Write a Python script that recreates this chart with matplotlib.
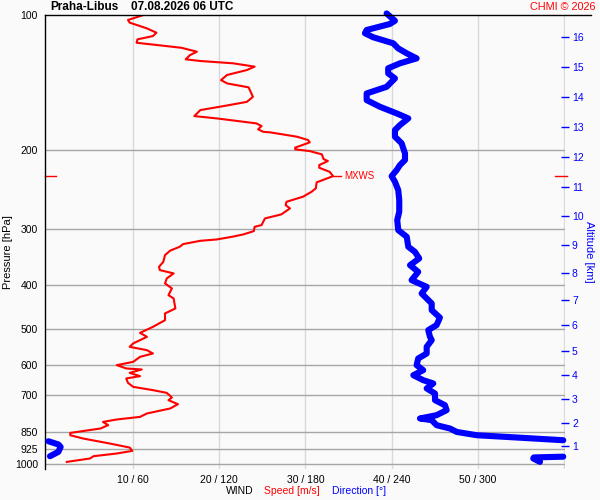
import numpy as np
import matplotlib
matplotlib.use("Agg")
import matplotlib.pyplot as plt
from matplotlib.lines import Line2D
from matplotlib.ticker import NullLocator

plt.rcParams["font.family"] = ["Liberation Sans", "DejaVu Sans"]

station = "Praha-Libus"
run_time = "07.08.2026 06 UTC"

# wind speed [m/s] vs pressure [hPa]
speed_p = [100, 102.6, 104.0, 107.1, 109.5, 111.4, 113.3, 115.3, 116.6, 118.3,
           120.7, 122.8, 125.5, 126.6, 128.1, 130.3, 132.6, 136.0, 139.6, 142.0,
           144.9, 152.1, 156.1, 159.5, 162.8, 167.9, 169.9, 174.3, 176.7, 179.7,
           182.0, 182.5, 186.6, 189.8, 192.1, 197.4, 199.1, 200.9, 204.3, 209.3,
           211.4, 215.8, 218.8, 223.4, 228.4, 231.9, 235.8, 243.2, 247.5, 253.9,
           260.5, 265.0, 269.5, 277.9, 283.7, 293.6, 296.2, 302.8, 307.9, 311.4,
           316.0, 318.2, 323.6, 328.1, 334.6, 342.4, 354.4, 363.6, 369.8, 376.1,
           385.9, 395.9, 406.2, 420.4, 427.6, 450.1, 461.8, 477.9, 494.6, 510.1,
           520.6, 538.5, 548.0, 557.4, 567.0, 576.8, 591.8, 601.9, 612.2, 615.4,
           626.2, 636.8, 644.3, 659.0, 672.7, 684.2, 693.8, 710.3, 720.3, 735.2,
           751.6, 771.1, 784.7, 795.2, 805.2, 818.8, 832.9, 851.9, 862.0, 876.8,
           899.6, 918.3, 934.1, 946.7, 959.9, 971.2, 988.3]
speed = [11.2, 9.4, 9.6, 11.6, 12.7, 12.3, 10.5, 10.4, 12.7, 15.6,
         17.4, 16.6, 16.1, 17.8, 21.6, 24.1, 23.2, 20.9, 20.2, 20.9,
         23.4, 23.9, 23.2, 20.5, 17.8, 17.1, 19.7, 24.3, 24.9, 24.5,
         25.1, 25.9, 29.0, 30.3, 30.5, 28.8, 28.8, 30.5, 31.9, 32.1,
         32.6, 31.6, 31.6, 32.8, 33.2, 32.3, 31.3, 31.2, 30.7, 29.7,
         27.8, 27.7, 28.2, 27.2, 25.3, 24.9, 24.1, 24.0, 22.8, 21.6,
         19.7, 17.8, 15.8, 15.4, 14.3, 13.7, 13.5, 13.0, 13.1, 14.7,
         13.9, 13.7, 14.5, 14.1, 14.7, 14.9, 13.7, 13.7, 12.3, 10.8,
         11.6, 10.0, 9.6, 11.6, 12.3, 10.8, 10.0, 8.1, 9.2, 11.0,
         9.6, 10.8, 9.2, 9.4, 10.0, 12.3, 13.9, 14.5, 14.1, 15.2,
         14.3, 11.6, 10.8, 8.1, 6.5, 7.1, 6.2, 2.7, 2.7, 4.2,
         7.3, 9.6, 9.9, 8.1, 5.4, 5.0, 2.3]

# wind direction [deg] vs pressure [hPa]
dir_p = [99.2, 103.0, 104.7, 108.0, 109.8, 112.1, 115.6, 118.7, 121.7, 124.9,
         128.1, 131.4, 134.9, 138.4, 144.5, 149.5, 154.7, 160.1, 165.6, 169.9,
         175.8, 180.4, 186.6, 193.1, 198.1, 203.2, 210.3, 215.8, 221.4, 228.4,
         235.1, 245.4, 258.2, 274.2, 286.1, 301.2, 311.7, 328.1, 336.7, 348.3,
         360.5, 373.1, 389.3, 402.9, 416.8, 438.7, 453.9, 471.8, 490.2, 503.0,
         520.6, 529.5, 547.9, 567.0, 581.7, 601.9, 617.6, 633.7, 650.1, 661.2,
         678.3, 696.0, 720.3, 739.0, 758.1, 777.9, 791.1, 798.0, 818.8, 832.9,
         847.6, 862.0, 872.2, 884.4, 889.0, 904.0, 915.5, 938.9, 959.9, 962.3,
         966.0, 971.2, 988.3]
direction = [236.5, 242.3, 238.8, 222.6, 221.4, 227.2, 241.1, 244.6, 250.5, 257.4,
             245.8, 237.6, 237.6, 242.3, 236.5, 222.6, 222.6, 231.9, 243.5, 251.6,
             245.8, 242.3, 242.3, 247.0, 248.1, 249.3, 249.3, 245.8, 243.5, 240.0,
             242.3, 244.6, 245.3, 245.3, 243.9, 244.6, 250.5, 251.6, 256.2, 259.2,
             252.8, 258.5, 253.9, 264.4, 260.9, 267.9, 267.9, 273.6, 271.3, 265.5,
             266.7, 267.9, 264.4, 264.4, 258.5, 257.4, 262.0, 255.1, 262.0, 269.0,
             264.4, 270.2, 270.2, 277.1, 278.3, 271.3, 259.7, 267.9, 271.3, 280.6,
             285.3, 299.2, 327.1, 359.5, 1.0, 8.0, 9.5, 7.9, 2.1, 359.5,
             339.0, 338.6, 343.3]

# altitude scale (km) on the right, placed at the matching pressure
alt_km = list(range(1, 17))
alt_p = [913, 809, 715, 634, 561, 489, 430, 376, 325, 280,
         241, 207, 178, 152, 130.5, 112]

p_ticks = [100, 200, 300, 400, 500, 600, 700, 850, 925, 1000]
x_ticks = [10, 20, 30, 40, 50]
x_labels = ["10 / 60", "20 / 120", "30 / 180", "40 / 240", "50 / 300"]

mxws_p = 228.4
mxws_speed = 33.2

bg = "#fafafa"
W, H = 600, 500


def fx(x):
    return x / W


def fy(y):
    return 1 - y / H


fig = plt.figure(figsize=(6, 5), dpi=100, facecolor=bg)
ax = fig.add_axes([fx(45), fy(469), 520 / W, 454 / H])
ax.set_facecolor(bg)
ax.set_yscale("log")
ax.set_ylim(1025, 100)
ax.set_xlim(-0.23, 60.12)
ax.yaxis.set_minor_locator(NullLocator())

# grid
for p in p_ticks[1:]:
    ax.axhline(p, color="#a6a6a6", lw=1, zorder=1)
for x in [10, 20, 30, 40, 50, 60]:
    ax.axvline(x, color="#d9d9d9", lw=1, zorder=0)

# speed
ax.plot(speed, speed_p, color="#ff0000", lw=1.5, zorder=3)

# direction (360 deg = 60 m/s on the same axis), break the line at 0/360 wrap
d = np.array(direction, float)
dp = np.array(dir_p, float)
jumps = np.where(np.abs(np.diff(d)) > 180)[0] + 1
d = np.insert(d, jumps, np.nan)
dp = np.insert(dp, jumps, np.nan)
ax.plot(d / 6, dp, color="#0000ff", lw=4.4, solid_capstyle="round",
        solid_joinstyle="round", zorder=4, clip_on=False)

# max wind marker
ax.plot([mxws_speed, mxws_speed + 0.9], [mxws_p, mxws_p], color="red", lw=1, zorder=5)
ax.text(mxws_speed + 1.3, mxws_p, "MXWS", color="red", fontsize=7, va="center")
tr = ax.get_yaxis_transform()
ax.plot([0, 11 / 520], [mxws_p, mxws_p], color="red", lw=1, transform=tr, clip_on=False)
ax.plot([510 / 520, 522 / 520], [mxws_p, mxws_p], color="red", lw=1, transform=tr, clip_on=False)

for s in ["top", "right", "bottom"]:
    ax.spines[s].set_visible(False)
ax.spines["left"].set_color("black")
ax.spines["left"].set_linewidth(1)

ax.set_yticks(p_ticks, [str(p) for p in p_ticks])
ax.set_xticks(x_ticks, x_labels)
ax.tick_params(axis="y", length=0, pad=5, labelsize=7.5)
ax.tick_params(axis="x", length=0, pad=4, labelsize=7.5)

# altitude axis
axr = ax.twinx()
axr.set_yscale("log")
axr.set_ylim(1025, 100)
axr.yaxis.set_minor_locator(NullLocator())
axr.set_yticks(alt_p, [str(k) for k in alt_km])
axr.tick_params(axis="y", colors="#0000ff", direction="inout", length=6,
                width=1, pad=2, labelsize=7.5)
for s in axr.spines.values():
    s.set_visible(False)

# top frame line runs past the plot
fig.add_artist(Line2D([fx(45), fx(591)], [fy(15), fy(15)], color="black", lw=1))

# texts
fig.text(fx(50), fy(7.5), station, fontsize=8.5, fontweight="bold", va="center")
fig.text(fx(131), fy(7.5), run_time, fontsize=8.5, fontweight="bold", va="center")
fig.text(fx(596), fy(7.5), "CHMI © 2026", fontsize=7.8, color="red", ha="right", va="center")
fig.text(fx(8), fy(252), "Pressure [hPa]", fontsize=8, rotation=90, ha="center", va="center")
fig.text(fx(589), fy(252), "Altitude [km]", fontsize=8, rotation=-90, color="#0000ff",
         ha="center", va="center")
fig.text(fx(225.7), fy(491.5), "WIND", fontsize=7.5, va="center")
fig.text(fx(264.3), fy(491.5), "Speed [m/s]", fontsize=7.5, color="red", va="center")
fig.text(fx(332.3), fy(491.5), "Direction [°]", fontsize=7.5, color="#0000ff", va="center")

fig.savefig("out.png", dpi=100, facecolor=bg)
